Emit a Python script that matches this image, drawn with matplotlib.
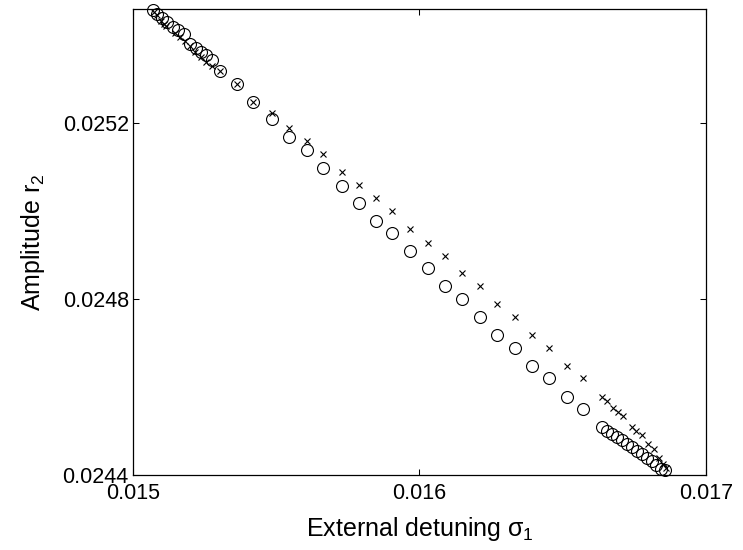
import matplotlib
matplotlib.use("Agg")
import matplotlib.pyplot as plt

plt.rcParams["font.family"] = ["Liberation Sans", "DejaVu Sans"]
plt.rcParams["mathtext.fontset"] = "custom"
plt.rcParams["mathtext.rm"] = "Liberation Sans"
plt.rcParams["mathtext.it"] = "Liberation Sans"

# ── data ──────────────────────────────────────────────────────────────────
# circles: r2 vs sigma1 (solution branch 1)
sigma_circ = [
    0.0150709, 0.0150838, 0.0151002, 0.0151176, 0.0151386, 0.0151571,
    0.0151780, 0.0152007, 0.0152199, 0.0152384, 0.0152559, 0.0152757,
    0.0153037, 0.0153620, 0.0154199, 0.0154841, 0.0155445, 0.0156063,
    0.0156642, 0.0157284, 0.0157888, 0.0158471, 0.0159051, 0.0159668,
    0.0160286, 0.0160890, 0.0161473, 0.0162112, 0.0162695, 0.0163333,
    0.0163916, 0.0164531, 0.0165138, 0.0165717,
    0.0166370, 0.0166545, 0.0166719, 0.0166894, 0.0167068, 0.0167243,
    0.0167417, 0.0167592, 0.0167766, 0.0167941, 0.0168115, 0.0168272,
    0.0168412, 0.0168569,
]
r2_circ = [
    0.0254574, 0.0254479, 0.0254388, 0.0254293, 0.0254184, 0.0254104,
    0.0254014, 0.0253802, 0.0253707, 0.0253621, 0.0253537, 0.0253430,
    0.0253173, 0.0252878, 0.0252476, 0.0252090, 0.0251682, 0.0251387,
    0.0250982, 0.0250574, 0.0250188, 0.0249768, 0.0249502, 0.0249086,
    0.0248712, 0.0248303, 0.0247996, 0.0247594, 0.0247186, 0.0246891,
    0.0246486, 0.0246209, 0.0245778, 0.0245492,
    0.0245090, 0.0245010, 0.0244931, 0.0244863, 0.0244795, 0.0244715,
    0.0244636, 0.0244556, 0.0244477, 0.0244397, 0.0244307, 0.0244216,
    0.0244136, 0.0244102,
]

# crosses: r2 vs sigma1 (solution branch 2)
sigma_cross = [
    0.0150733, 0.0150855, 0.0150967, 0.0151082, 0.0151169, 0.0151466,
    0.0151640, 0.0151815, 0.0151990, 0.0152164, 0.0152373, 0.0152548,
    0.0152757,
    0.0153037, 0.0153620, 0.0154199, 0.0154841, 0.0155445, 0.0156063,
    0.0156642, 0.0157284, 0.0157888, 0.0158471, 0.0159051, 0.0159668,
    0.0160286, 0.0160890, 0.0161473, 0.0162112, 0.0162695, 0.0163333,
    0.0163916, 0.0164531, 0.0165138, 0.0165717,
    0.0166370, 0.0166545, 0.0166754, 0.0166928, 0.0167103, 0.0167400,
    0.0167574, 0.0167749, 0.0167976, 0.0168168, 0.0168370, 0.0168499,
    0.0168604,
]
r2_cross = [
    0.0254524, 0.0254445, 0.0254309, 0.0254252, 0.0254195, 0.0254036,
    0.0253957, 0.0253866, 0.0253741, 0.0253616, 0.0253485, 0.0253389,
    0.0253287,
    0.0253173, 0.0252878, 0.0252476, 0.0252213, 0.0251872, 0.0251591,
    0.0251296, 0.0250891, 0.0250585, 0.0250283, 0.0250001, 0.0249593,
    0.0249279, 0.0248984, 0.0248580, 0.0248292, 0.0247883, 0.0247594,
    0.0247179, 0.0246895, 0.0246482, 0.0246203,
    0.0245771, 0.0245692, 0.0245515, 0.0245437, 0.0245340, 0.0245090,
    0.0244999, 0.0244908, 0.0244704, 0.0244590, 0.0244397, 0.0244250,
    0.0244159,
]

x_ticks = [0.015, 0.016, 0.017]
x_ticklabels = ["0.015", "0.016", "0.017"]
y_ticks = [0.0244, 0.0248, 0.0252]
y_ticklabels = ["0.0244", "0.0248", "0.0252"]


def main():
    fig = plt.figure(figsize=(7.43, 5.5), dpi=100)
    fig.patch.set_facecolor("white")
    ax = fig.add_axes([0.179, 0.1364, 0.7712, 0.8467])

    ax.plot(sigma_circ, r2_circ, linestyle="none", marker="o", ms=8.6,
            mfc="none", mec="black", mew=0.8, clip_on=False)
    ax.plot(sigma_cross, r2_cross, linestyle="none", marker="x", ms=5.0,
            color="black", mew=0.8, clip_on=False)

    ax.set_xlim(0.015, 0.017)
    ax.set_ylim(0.0244, 0.025458)
    ax.set_xticks(x_ticks)
    ax.set_xticklabels(x_ticklabels)
    ax.set_yticks(y_ticks)
    ax.set_yticklabels(y_ticklabels)
    ax.tick_params(direction="in", length=4.2, width=0.75, top=True,
                   right=True, labelsize=15.5)
    ax.tick_params(axis="x", pad=6)
    ax.tick_params(axis="y", pad=3)
    for s in ax.spines.values():
        s.set_linewidth(0.9)

    ax.set_xlabel(r"External detuning $\sigma_1$", fontsize=18, labelpad=8)
    ax.set_ylabel(r"Amplitude r$_2$", fontsize=18, labelpad=11)

    fig.savefig("out.png", dpi=100)


if __name__ == "__main__":
    main()
